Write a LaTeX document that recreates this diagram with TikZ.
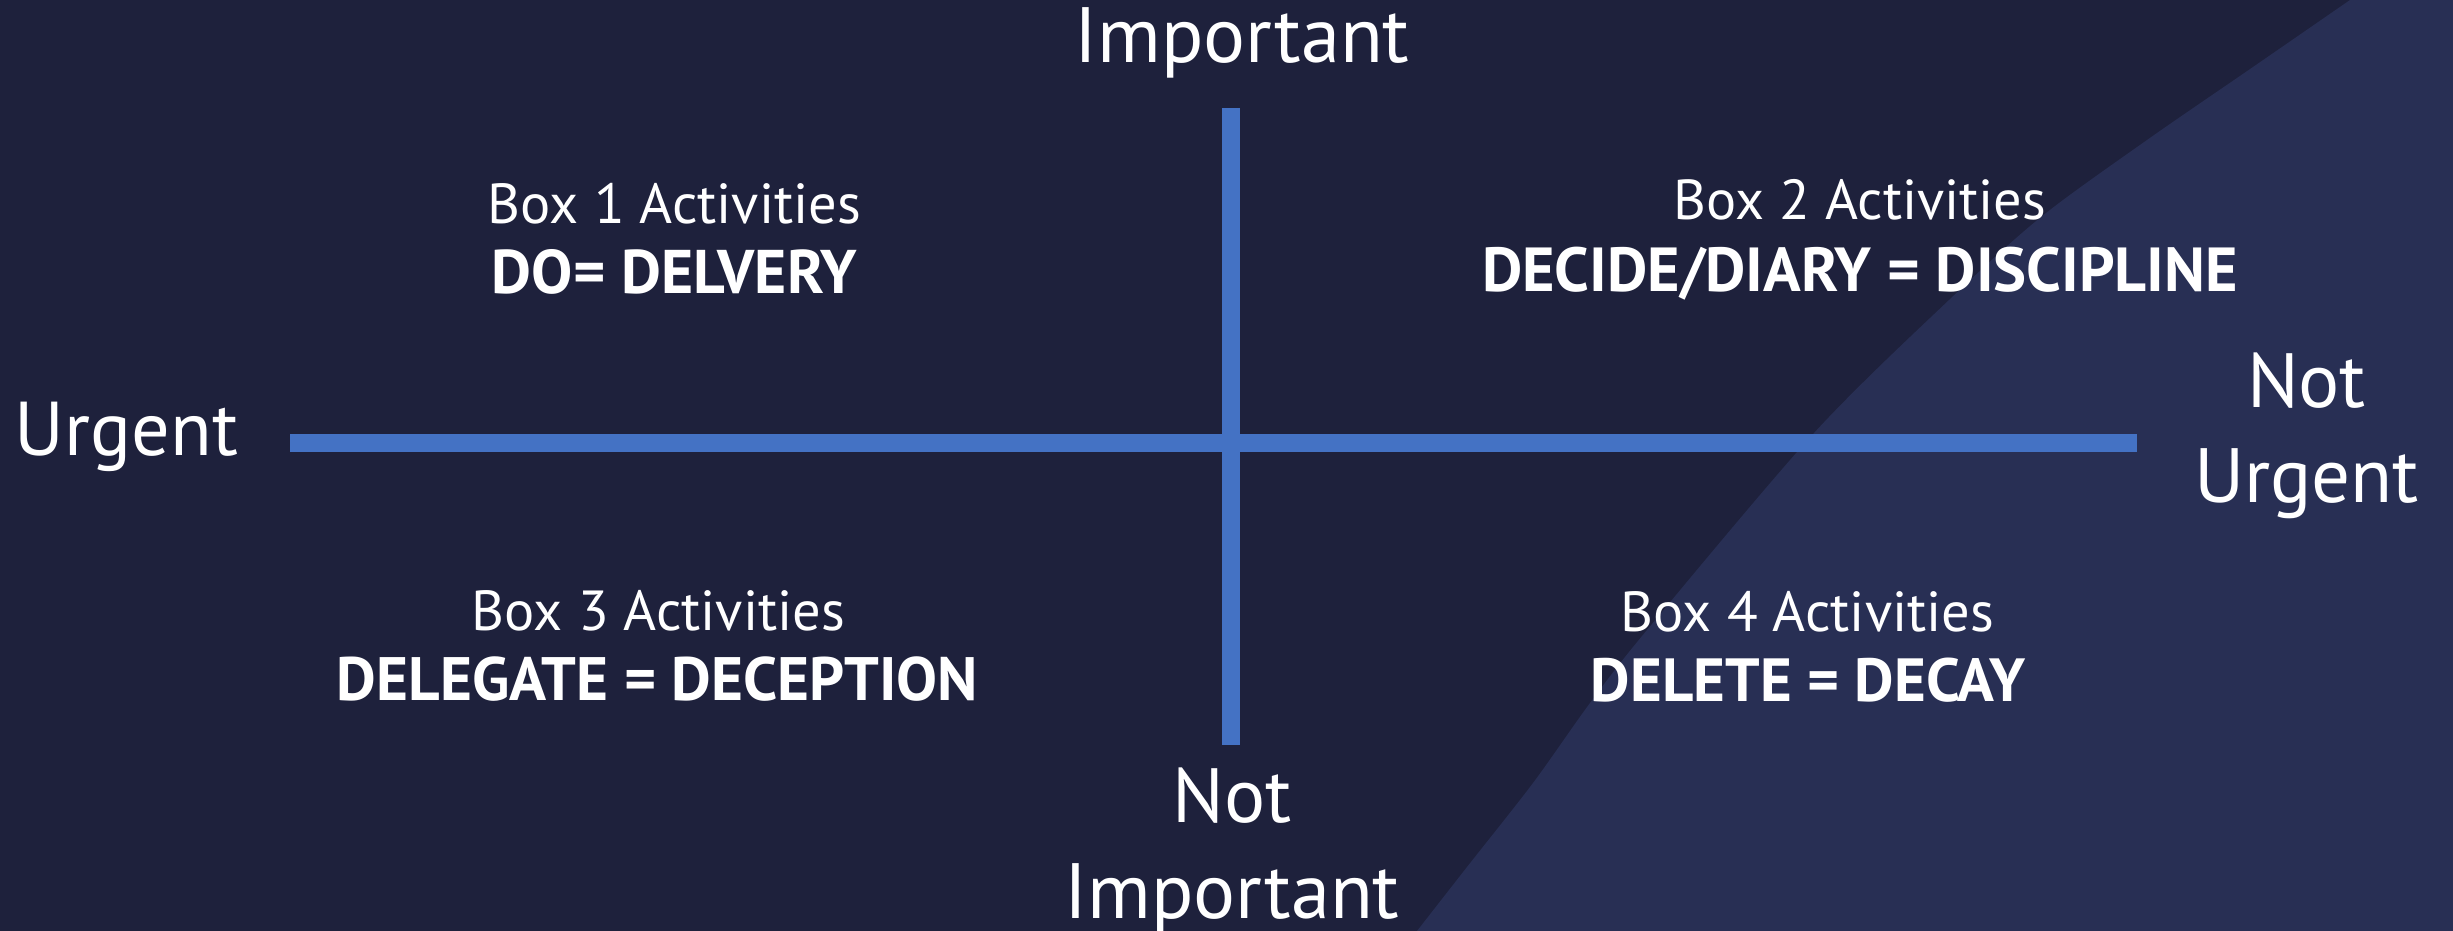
\documentclass[tikz,border=0pt]{standalone}
\usepackage{fontspec}
\setmainfont{PT Sans}
\usepackage{graphicx}
\definecolor{bg}{HTML}{1E213C}
\definecolor{band}{HTML}{282F54}
\definecolor{axisblue}{HTML}{4472C4}
\newcommand{\fitw}[2]{\resizebox{#1pt}{!}{#2}}
\begin{document}
\begin{tikzpicture}[x=0.5pt,y=-0.5pt,
  lbl/.style={text=white,inner sep=0pt,anchor=base},
  axisline/.style={draw=axisblue,line width=9pt}]
\fill[bg] (0,0) rectangle (2453,931);
\useasboundingbox (0,0) rectangle (2453,931);
\fill[band] plot[smooth] coordinates {(2350,0) (2253,67) (2147,140) (2041,217) (1949,300) (1814,433) (1647,630) (1590,703) (1533,783) (1467,867) (1417,931)} -- (2453,931) -- (2453,0) -- cycle;
% axes
\coordinate (vtop) at (1231,108);
\coordinate (vbot) at (1231,745);
\coordinate (hl) at (290,442.5);
\coordinate (hr) at (2137,442.5);
\draw[axisline] (hl) -- (hr);
\draw[axisline] (vtop) -- (vbot);
% axis labels
\node[lbl] (imp) at (1242,63) {\fitw{167.5}{Important}};
\node[lbl] (notimp1) at (1232,822) {\fitw{59.5}{Not}};
\node[lbl] (notimp2) at (1232,918) {\fitw{167.5}{Important}};
\node[lbl] (urg) at (126.5,455) {\fitw{111.5}{Urgent}};
\node[lbl] (noturg1) at (2306.5,407) {\fitw{59.5}{Not}};
\node[lbl] (noturg2) at (2306.5,502) {\fitw{112.5}{Urgent}};
% quadrant labels
\node[lbl] (b1a) at (674.5,223) {\fitw{186.5}{Box 1 Activities}};
\node[lbl] (b1b) at (674.5,293) {\fitw{182.5}{\bfseries DO= DELVERY}};
\node[lbl] (b2a) at (1860,220) {\fitw{186}{Box 2 Activities}};
\node[lbl] (b2b) at (1860,291) {\fitw{378}{\bfseries DECIDE/DIARY = DISCIPLINE}};
\node[lbl] (b3a) at (658.5,630) {\fitw{186.5}{Box 3 Activities}};
\node[lbl] (b3b) at (657.5,700) {\fitw{320.5}{\bfseries DELEGATE = DECEPTION}};
\node[lbl] (b4a) at (1807.5,631) {\fitw{186.5}{Box 4 Activities}};
\node[lbl] (b4b) at (1808,701) {\fitw{217}{\bfseries DELETE = DECAY}};
\end{tikzpicture}
\end{document}
